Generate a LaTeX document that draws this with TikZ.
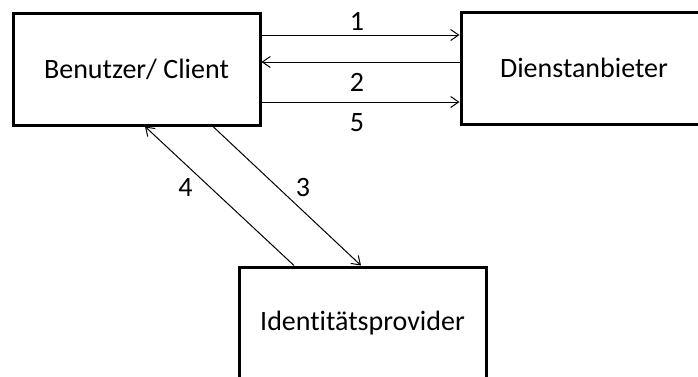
\documentclass[tikz,border=0pt]{standalone}
\usepackage{fontspec}
\setmainfont{Carlito}[Ligatures=NoCommon]
\usetikzlibrary{arrows.meta}
\begin{document}
\begin{tikzpicture}[x=1pt,y=-1pt,
  boxnode/.style={draw=black,line width=3pt,rectangle,minimum width=247pt,minimum height=112pt,inner sep=0pt,font=\fontsize{28}{33}\selectfont},
  lbl/.style={inner sep=0pt,font=\fontsize{28}{33}\selectfont},
  arr/.style={line width=1pt,-{Straight Barb[length=8pt,width=11pt,line width=1pt]}}]
\useasboundingbox (0,0) rectangle (698,376);
\clip (0,0) rectangle (698,376);
\node[boxnode] (b) at (136.5,69) {Benutzer/ Client};
\node[boxnode,minimum width=246pt] (d) at (584,68) {Dienstanbieter};
\node[boxnode] (i) at (362.5,323) {Identitätsprovider};
\draw[arr] ([yshift=34pt]b.east) -- ([yshift=34pt]b.east -| d.west);
\draw[arr] ([yshift=7pt]b.east -| d.west) -- ([yshift=7pt]b.east);
\draw[arr] ([yshift=-33pt]b.east) -- ([yshift=-33pt]b.east -| d.west);
\draw[arr] ([xshift=76.5pt]b.south) -- ([xshift=-1.5pt]i.north);
\draw[arr] ([xshift=-68.5pt]i.north) -- ([xshift=8.5pt]b.south);
\node[lbl] (l1) at (357,21) {1};
\node[lbl] (l2) at (357,82) {2};
\node[lbl] (l5) at (357,123) {5};
\node[lbl] (l4) at (185.5,188) {4};
\node[lbl] (l3) at (303,188) {3};
\end{tikzpicture}
\end{document}
